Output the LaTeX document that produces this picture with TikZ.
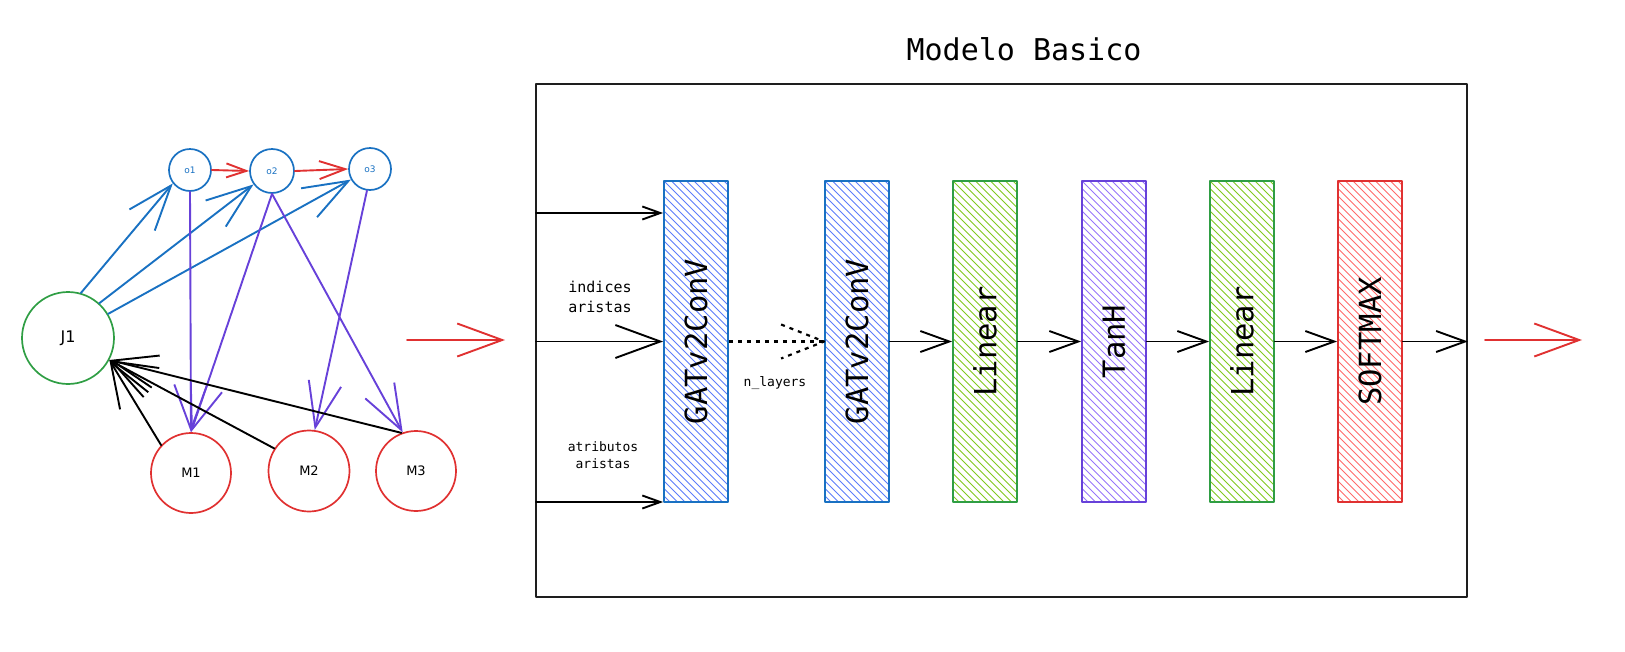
\documentclass[tikz,border=0pt]{standalone}
\usepackage{fontspec}
\setmainfont{DejaVu Sans}
\newfontfamily\monof{DejaVu Sans Mono}
\usetikzlibrary{arrows.meta,calc}
\definecolor{exblue}{HTML}{1971C2}
\definecolor{exgreen}{HTML}{2F9E44}
\definecolor{expurple}{HTML}{6741D9}
\definecolor{exred}{HTML}{E03131}
\definecolor{exdark}{HTML}{1E1E1E}
\definecolor{hblue}{HTML}{5C7CFA}
\definecolor{hgreen}{HTML}{82C91E}
\definecolor{hpurple}{HTML}{9775FA}
\definecolor{hred}{HTML}{FF6B6B}
\newcommand\mklayer[5]{%
  \begin{scope}
    \clip (#2-32,181) rectangle (#2+32,502);
    \foreach \k in {0,...,55} {\draw[#4, line width=1pt] ({#2-362+7.5*\k},181) -- ++(330,330);}
  \end{scope}
  \node[layer, draw=#3] (#1) at (#2,341.5) {};
  \node[rotate=90, font=\monof\fontsize{30.5}{36}\selectfont] (#1t) at (#1.center) {#5};
}
\begin{document}
\begin{tikzpicture}[x=1pt,y=-1pt, line cap=round, line join=round,
  every node/.style={inner sep=0pt},
  gnode/.style={circle, draw, line width=1.7pt, inner sep=0pt},
  layer/.style={rectangle, draw, line width=1.8pt, minimum width=64pt, minimum height=321pt},
  conn/.style={line width=1.9pt},
  tipbig/.style={-{Straight Barb[length=45pt,width=33pt]}},
  tipmid/.style={-{Straight Barb[length=29pt,width=21pt]}},
  tipsmall/.style={-{Straight Barb[length=18pt,width=13pt]}},
  tipred1/.style={-{Straight Barb[length=20pt,width=14pt]}},
  tipred2/.style={-{Straight Barb[length=26pt,width=18pt]}},
  dotline/.style={line width=2.2pt, dash pattern=on 4pt off 5pt, line cap=butt},
  glabel/.style={font=\fontsize{9}{10}\selectfont, text=exblue},
  mlabel/.style={font=\fontsize{13}{15}\selectfont},
]
\useasboundingbox (0,0) rectangle (1625,651);

% ---------- title and box ----------
\node[font=\monof\fontsize{30}{36}\selectfont] (title) at (1024,49) {Modelo Basico};
\node[draw=exdark, line width=1.8pt, minimum width=931pt, minimum height=513pt] (box) at (1001.5,340.5) {};

% ---------- layers ----------
\mklayer{g1}{696}{exblue}{hblue}{GATv2ConV}
\mklayer{g2}{857}{exblue}{hblue}{GATv2ConV}
\mklayer{l1}{985}{exgreen}{hgreen}{Linear}
\mklayer{th}{1114}{expurple}{hpurple}{TanH}
\mklayer{l2}{1242}{exgreen}{hgreen}{Linear}
\mklayer{sm}{1370}{exred}{hred}{SOFTMAX}

% ---------- inputs ----------
\coordinate (in1) at (536,213);
\coordinate (in2) at (536,341.5);
\coordinate (in3) at (536,502);
\draw[conn, tipsmall] (in1) -- (in1 -| g1.west);
\draw[conn, tipbig] (in2) -- (in2 -| g1.west);
\draw[conn, tipsmall] (in3) -- (in3 -| g1.west);

\node[font=\monof\fontsize{15}{20}\selectfont, align=center] (lblidx) at (600,297) {indices\\aristas};
\node[font=\monof\fontsize{13}{17}\selectfont, align=center] (lblattr) at (603,455) {atributos\\aristas};

% ---------- dotted connector ----------
\draw[dotline] (g1.east) -- (g2.west);
\draw[dotline] ($(g2.west)+(-43,-17)$) -- (g2.west) -- ($(g2.west)+(-43,17)$);
\node[font=\monof\fontsize{13}{16}\selectfont] (lblnl) at (775,383) {n\_layers};

% ---------- chain ----------
\draw[conn, tipmid] (g2.east) -- (l1.west);
\draw[conn, tipmid] (l1.east) -- (th.west);
\draw[conn, tipmid] (th.east) -- (l2.west);
\draw[conn, tipmid] (l2.east) -- (sm.west);
\draw[conn, tipmid] (sm.east) -- (sm.east -| box.east);

% ---------- red arrows ----------
\coordinate (ra1) at (407,340);
\coordinate (ra2) at (505,340);
\coordinate (rb1) at (1485,340);
\coordinate (rb2) at (1582,340);
\draw[conn, exred, tipbig] (ra1) -- (ra2);
\draw[conn, exred, tipbig] (rb1) -- (rb2);

% ---------- graph ----------
\node[gnode, draw=exblue, minimum size=42pt] (o1) at (190,170) {};
\node[gnode, draw=exblue, minimum size=44pt] (o2) at (272,171) {};
\node[gnode, draw=exblue, minimum size=42pt] (o3) at (370,169) {};
\node[gnode, draw=exgreen, minimum size=92pt] (J1) at (68,338) {};
\node[gnode, draw=exred, minimum size=80pt] (M1) at (191,473) {};
\node[gnode, draw=exred, minimum size=81pt] (M2) at (309,471) {};
\node[gnode, draw=exred, minimum size=80pt] (M3) at (416,471) {};

\node[glabel] (o1t) at (o1.center) {o1};
\node[glabel] (o2t) at (o2.center) {o2};
\node[glabel] (o3t) at (o3.center) {o3};
\node[font=\fontsize{16}{18}\selectfont] (J1t) at (J1.center) {J1};
\node[mlabel] (M1t) at (M1.center) {M1};
\node[mlabel] (M2t) at (M2.center) {M2};
\node[mlabel] (M3t) at (M3.center) {M3};

% red edges
\draw[conn, exred, tipred1] (o1.east) -- (o2.west);
\draw[conn, exred, tipred2] (o2.east) -- (o3.west);
% blue edges
\draw[conn, exblue, tipbig] (J1.74) -- (o1.218);
\draw[conn, exblue, tipbig] (J1.48) -- (o2.216);
\draw[conn, exblue, tipbig] (J1.31) -- (o3.209);
% purple edges
\draw[conn, expurple, tipbig] (o1.south) -- (M1.north);
\draw[conn, expurple, tipbig] (o2.south) -- (M1.north);
\draw[conn, expurple, tipbig] (o2.south) -- (M3.109);
\draw[conn, expurple, tipbig] (o3.262) -- (M2.82);
% black edges
\draw[conn, black, tipbig] (M1.137) -- (J1.-28);
\draw[conn, black, tipbig] (M2.147) -- (J1.-28);
\draw[conn, black, tipbig] (M3.111) -- (J1.-28);
\end{tikzpicture}
\end{document}
